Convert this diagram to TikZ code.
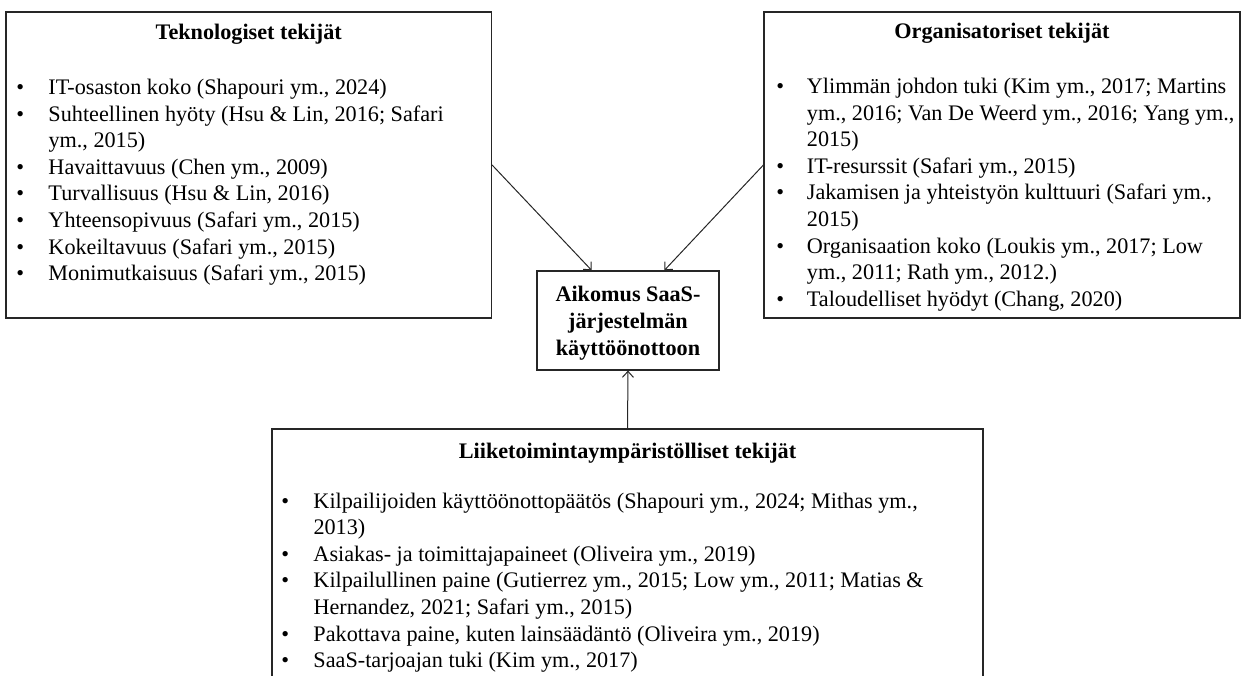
\documentclass[tikz,border=0pt]{standalone}
\usepackage{fontspec}
\setmainfont{Liberation Serif}
\usetikzlibrary{arrows.meta}

% bullet list with a fixed bullet column
\newcommand{\factorlist}[2]{%
  \begin{tabular}[t]{@{}p{#1}@{}l@{}}#2\end{tabular}}
\newcommand{\itm}{\textbullet}

\begin{document}
\begin{tikzpicture}[x=1pt,y=-1pt,
  box/.style={draw=black!85, line width=1.2pt, inner sep=0pt, rectangle},
  headline/.style={anchor=base, inner sep=0pt, font=\fontsize{22.2}{26.6}\selectfont\bfseries},
  listtext/.style={anchor=base west, inner sep=0pt, font=\fontsize{22.2}{26.6}\selectfont},
  flow/.style={draw=black!85, line width=1pt, -{Straight Barb[length=6pt,width=11pt,line width=1pt]}}
]
\useasboundingbox (0,0) rectangle (1244,675);
\clip (0,0) rectangle (1244,675);

% factor boxes
\node[box, minimum width=485.5pt, minimum height=306pt] (tech) at (248.75,165) {};
\node[box, minimum width=476pt, minimum height=306pt] (org) at (1002,165) {};
\node[box, minimum width=711pt, minimum height=291pt] (env) at (627.5,574.5) {};

% central outcome
\node[box, minimum width=182pt, minimum height=99pt, align=center,
      font=\fontsize{22.2}{27}\selectfont\bfseries] (goal) at (628,320.5)
  {\rule{0pt}{21pt}Aikomus SaaS-\\järjestelmän\\käyttöönottoon};

% headings
\node[headline] (techhead) at (248.75,39) {Teknologiset tekijät};
\node[headline] (orghead) at (1002,38.5) {Organisatoriset tekijät};
\node[headline] (envhead) at (627.5,458) {Liiketoimintaympäristölliset tekijät};

% technological factors
\node[listtext] (techlist) at (16.2,94.5) {\factorlist{32.1pt}{%
  \itm & IT-osaston koko (Shapouri ym., 2024)\\
  \itm & Suhteellinen hyöty (Hsu \& Lin, 2016; Safari\\
       & ym., 2015)\\
  \itm & Havaittavuus (Chen ym., 2009)\\
  \itm & Turvallisuus (Hsu \& Lin, 2016)\\
  \itm & Yhteensopivuus (Safari ym., 2015)\\
  \itm & Kokeiltavuus (Safari ym., 2015)\\
  \itm & Monimutkaisuus (Safari ym., 2015)}};

% organisational factors
\node[listtext] (orglist) at (776.2,93.5) {\factorlist{30.5pt}{%
  \itm & Ylimmän johdon tuki (Kim ym., 2017; Martins\\
       & ym., 2016; Van De Weerd ym., 2016; Yang ym.,\\
       & 2015)\\
  \itm & IT-resurssit (Safari ym., 2015)\\
  \itm & Jakamisen ja yhteistyön kulttuuri (Safari ym.,\\
       & 2015)\\
  \itm & Organisaation koko (Loukis ym., 2017; Low\\
       & ym., 2011; Rath ym., 2012.)\\
  \itm & Taloudelliset hyödyt (Chang, 2020)}};

% business environment factors
\node[listtext] (envlist) at (281.2,508) {\factorlist{32.1pt}{%
  \itm & Kilpailijoiden käyttöönottopäätös (Shapouri ym., 2024; Mithas ym.,\\
       & 2013)\\
  \itm & Asiakas- ja toimittajapaineet (Oliveira ym., 2019)\\
  \itm & Kilpailullinen paine (Gutierrez ym., 2015; Low ym., 2011; Matias \&\\
       & Hernandez, 2021; Safari ym., 2015)\\
  \itm & Pakottava paine, kuten lainsäädäntö (Oliveira ym., 2019)\\
  \itm & SaaS-tarjoajan tuki (Kim ym., 2017)}};

% influences on the intention
\draw[flow] (tech.east) -- ([xshift=-36.3pt]goal.north);
\draw[flow] (org.west) -- ([xshift=36.3pt]goal.north);
\draw[flow] (env.north) -- (goal.south);
\end{tikzpicture}
\end{document}
